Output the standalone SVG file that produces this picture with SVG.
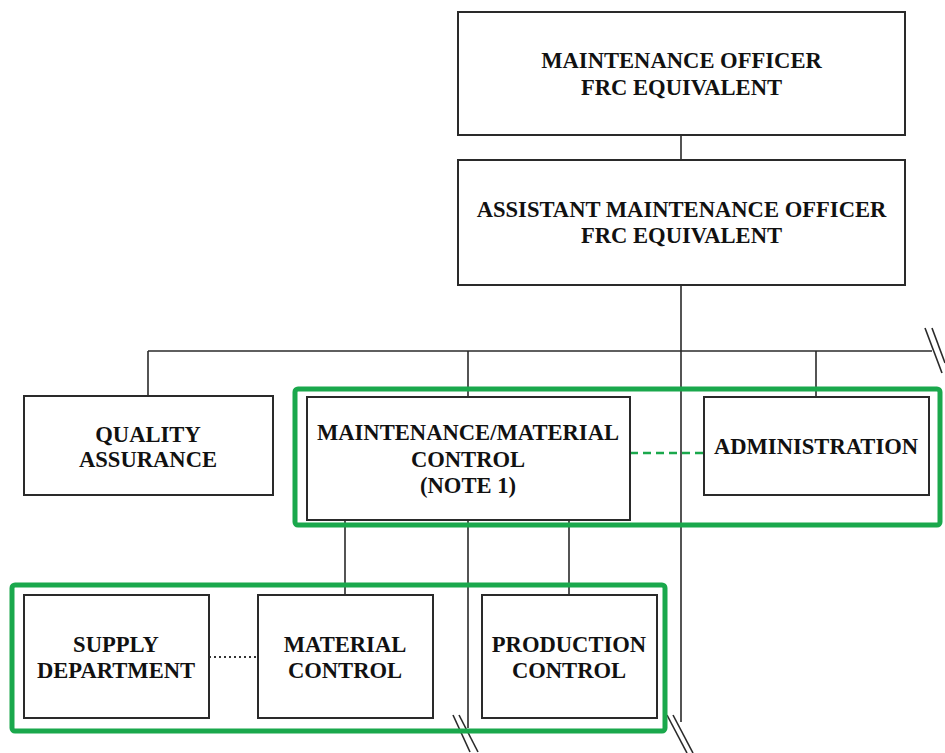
<svg xmlns="http://www.w3.org/2000/svg" width="945" height="753" viewBox="0 0 945 753">
<style>
.box{fill:#fff;stroke:#2a2a2a;stroke-width:2}
.ln{fill:none;stroke:#2a2a2a;stroke-width:1.6}
.grp{fill:none;stroke:#1aa84c;stroke-width:5}
.t{font-family:"Liberation Serif","Times New Roman",serif;font-weight:bold;font-size:22.6px;fill:#111;text-anchor:middle}
</style>
<rect width="945" height="753" fill="#fff"/>
<g id="connectors">
<line class="ln" x1="681" y1="135" x2="681" y2="160"/>
<line class="ln" x1="681" y1="285" x2="681" y2="722"/>
<line class="ln" x1="148" y1="351" x2="932" y2="351"/>
<line class="ln" x1="148" y1="351" x2="148" y2="396"/>
<line class="ln" x1="468" y1="351" x2="468" y2="397"/>
<line class="ln" x1="816" y1="351" x2="816" y2="397"/>
<line class="ln" x1="345" y1="520" x2="345" y2="596"/>
<line class="ln" x1="468" y1="520" x2="468" y2="728"/>
<line class="ln" x1="569" y1="520" x2="569" y2="596"/>
<line x1="630" y1="453" x2="704" y2="453" stroke="#1aa84c" stroke-width="2.5" stroke-dasharray="8,5"/>
<line x1="209" y1="657" x2="258" y2="657" stroke="#333" stroke-width="2" stroke-dasharray="2,3"/>
<line class="ln" x1="925" y1="328" x2="942" y2="373"/>
<line class="ln" x1="932" y1="328" x2="945" y2="363"/>
<line class="ln" x1="453" y1="715" x2="470" y2="752"/>
<line class="ln" x1="459" y1="715" x2="478" y2="752"/>
<line class="ln" x1="667" y1="715" x2="687" y2="753"/>
<line class="ln" x1="673" y1="715" x2="693" y2="753"/>
</g>
<g id="mo"><rect class="box" x="458" y="12" width="447" height="123"/><text class="t" x="681.5" y="68">MAINTENANCE OFFICER</text><text class="t" x="681.5" y="95">FRC EQUIVALENT</text></g>
<g id="amo"><rect class="box" x="458" y="160" width="447" height="125"/><text class="t" x="681.5" y="217">ASSISTANT MAINTENANCE OFFICER</text><text class="t" x="681.5" y="243">FRC EQUIVALENT</text></g>
<g id="qa"><rect class="box" x="24" y="396" width="249" height="99"/><text class="t" x="148" y="442">QUALITY</text><text class="t" x="148" y="467">ASSURANCE</text></g>
<g id="mmc"><rect class="box" x="307" y="397" width="323" height="123"/><text class="t" x="468" y="440">MAINTENANCE/MATERIAL</text><text class="t" x="468" y="467">CONTROL</text><text class="t" x="468" y="493">(NOTE 1)</text></g>
<g id="admin"><rect class="box" x="704" y="397" width="225" height="98"/><text class="t" x="816" y="454">ADMINISTRATION</text></g>
<g id="supply"><rect class="box" x="24" y="595" width="185" height="123"/><text class="t" x="116" y="652">SUPPLY</text><text class="t" x="116" y="678">DEPARTMENT</text></g>
<g id="material"><rect class="box" x="258" y="595" width="175" height="123"/><text class="t" x="345" y="652">MATERIAL</text><text class="t" x="345" y="678">CONTROL</text></g>
<g id="production"><rect class="box" x="482" y="595" width="175" height="123"/><text class="t" x="569" y="652">PRODUCTION</text><text class="t" x="569" y="678">CONTROL</text></g>
<g id="groups">
<rect class="grp" x="295" y="389" width="645" height="136" rx="3"/>
<rect class="grp" x="12" y="585" width="653" height="146" rx="3"/>
</g>
</svg>
